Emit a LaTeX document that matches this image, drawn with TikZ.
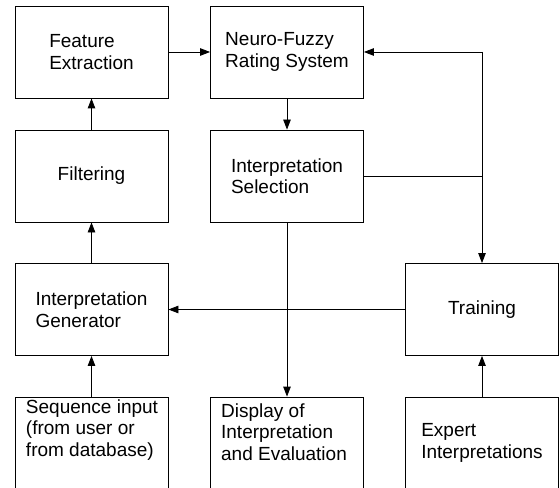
\documentclass[tikz,border=0pt]{standalone}
\usepackage{fontspec}
\setmainfont{Liberation Sans}
\usetikzlibrary{arrows.meta}
\begin{document}
\begin{tikzpicture}[x=1bp,y=-1bp,
  lbl/.style={font=\fontsize{19bp}{21.5bp}\selectfont, align=left},
  box/.style={lbl, draw, line width=0.85bp, minimum width=153bp, minimum height=92bp, inner sep=0pt},
  txt/.style={lbl, inner sep=0pt},
  conn/.style={draw, line width=0.85bp},
  arr/.style={conn, -{Triangle[length=10bp,width=7.5bp]}}]
\useasboundingbox (0,0) rectangle (560,488);
\clip (0,0) rectangle (560,488);
\node[box] (fe) at (91.5,52) {Feature\\Extraction};
\node[box] (nf) at (287,52) {Neuro-Fuzzy\\Rating System};
\node[box] (fi) at (91.5,176) {Filtering};
\node[box] (is) at (287,176) {Interpretation\\Selection};
\node[box] (ig) at (91.5,309.5) {Interpretation\\Generator};
\node[box] (tr) at (482,309.5) {Training};
\node[box] (sq) at (91.5,443) {};
\node[box] (di) at (287,443) {};
\node[box] (ex) at (482,443) {Expert\\Interpretations};
\node[txt] (sqt) at (92,430) {Sequence input\\(from user or\\from database)};
\node[txt] (dit) at (284,432) {Display of\\Interpretation\\and Evaluation};
\coordinate (j) at (tr.north |- is.east);
\coordinate (k) at (tr.north |- nf.east);
\draw[arr] (fe.east) -- (nf.west);
\draw[arr] (fi.north) -- (fe.south);
\draw[arr] (ig.north) -- (fi.south);
\draw[arr] (sq.north) -- (ig.south);
\draw[arr] (nf.south) -- (is.north);
\draw[arr] (is.south) -- (di.north);
\draw[conn] (is.east) -- (j);
\draw[arr] (k) -- (nf.east);
\draw[arr] (k) -- (tr.north);
\draw[arr] (tr.west) -- (ig.east);
\draw[arr] (ex.north) -- (tr.south);
\end{tikzpicture}
\end{document}
